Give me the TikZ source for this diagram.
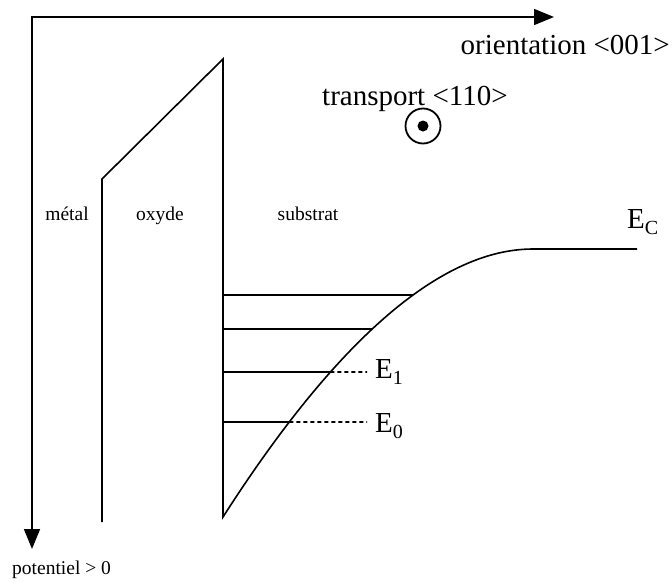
\documentclass[tikz,border=0pt]{standalone}
\usepackage{fontspec}
\setmainfont{Liberation Serif}
\usetikzlibrary{arrows.meta,intersections}
\tikzset{
  line/.style={line width=1.6pt, line join=miter},
  big/.style={font=\fontsize{29}{31}\selectfont, inner sep=0pt},
  small/.style={font=\fontsize{19.5}{21}\selectfont, inner sep=0pt},
  level/.style={line width=1.6pt},
  dashlevel/.style={line width=1.6pt, dash pattern=on 4pt off 3pt},
  >={Triangle[length=20pt,width=16pt]}
}
\newcommand{\mysub}[1]{\raisebox{-6pt}{\fontsize{20}{20}\selectfont #1}}
\begin{document}
\begin{tikzpicture}[x=1pt,y=-1pt]
\useasboundingbox (0,0) rectangle (672,581);
% axes
\coordinate (xend) at (554,17);
\coordinate (corner) at (32,17);
\coordinate (yend) at (32,549);
\draw[line,<->] (xend) -- (corner) -- (yend);
% metal / oxide
\coordinate (mb) at (102,522);
\coordinate (mt) at (102,179);
\coordinate (ot) at (223,59);
\coordinate (ob) at (223,517);
\coordinate (ce) at (533,249);
\coordinate (cr) at (637,249);
\draw[line] (mb) -- (mt) -- (ot) -- (ob) .. controls (319,367) and (428,249) .. (ce) -- (cr);
\path[name path=curve] (ob) .. controls (319,367) and (428,249) .. (ce);
% levels
\foreach \y/\n in {295/a,329/b,372/c,422/d}{
  \path[name path=lev\n] (223,\y) -- (640,\y);
  \path[name intersections={of=curve and lev\n, by=i\n}];
}
\draw[level] (223,295) -- (ia);
\draw[level] (223,329) -- (ib);
\draw[level] (223,372) -- (ic);
\draw[level] (223,422) -- (id);
\coordinate (e1) at (367,372);
\coordinate (e0) at (367,422);
\draw[dashlevel] (ic) -- (e1);
\draw[dashlevel] (id) -- (e0);
% labels
\node[big, anchor=base east] (orient) at (670,54) {orientation <001>};
\node[big, anchor=base west] (transp) at (322,105) {transport <110>};
\node[draw, circle, line width=1.8pt, minimum size=35pt, inner sep=0pt] (dir) at (423,126) {};
\fill (dir.center) circle (5.5pt);
\node[small, anchor=base] (metal) at (67,220) {métal};
\node[small, anchor=base] (oxyde) at (160,220) {oxyde};
\node[small, anchor=base] (subs) at (308,220) {substrat};
\node[big, anchor=base west] (EC) at (627,228) {E\mysub{C}};
\node[big, anchor=base west] (E1) at (375,378) {E\mysub{1}};
\node[big, anchor=base west] (E0) at (375,432) {E\mysub{0}};
\node[small, anchor=base west] (pot) at (12,574) {potentiel > 0};
\end{tikzpicture}
\end{document}
